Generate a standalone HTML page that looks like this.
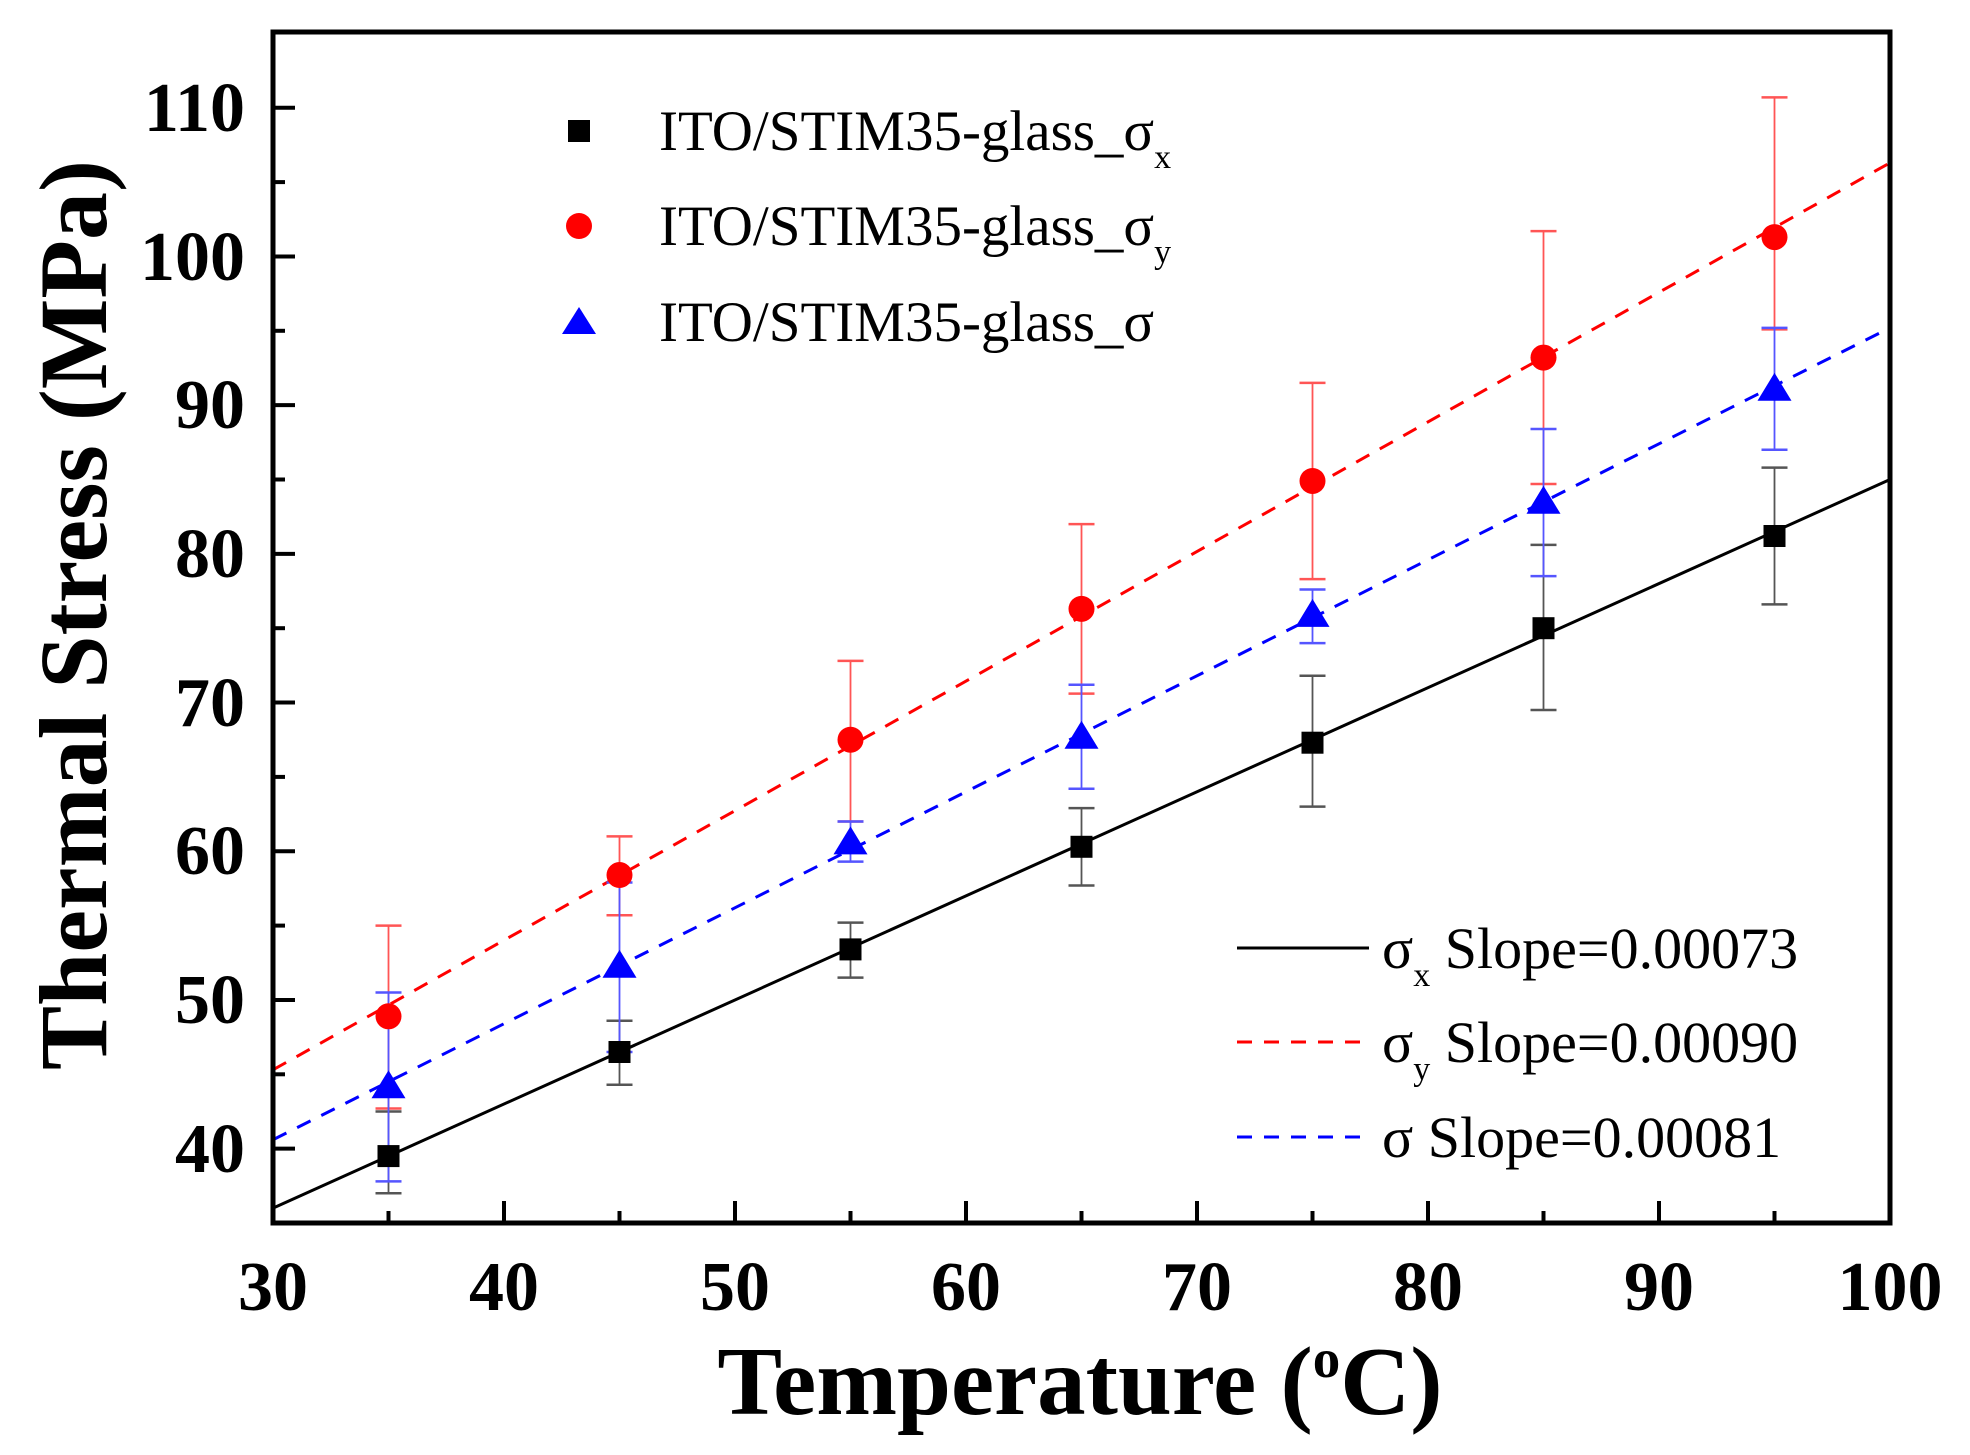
<!DOCTYPE html>
<html><head><meta charset="utf-8"><style>
html,body{margin:0;padding:0;background:#fff;}
svg{display:block;}
text{font-family:"Liberation Serif",serif;fill:#000;}
.tk{font-size:70px;font-weight:bold;}
.lg{font-size:57px;}
.lg2{font-size:58px;}
</style></head><body>
<svg id="s" width="1970" height="1455" viewBox="0 0 1970 1455" xmlns="http://www.w3.org/2000/svg">
<g id="data"></g>
<rect x="273" y="32" width="1617" height="1191" fill="none" stroke="#000" stroke-width="5"/>
<g id="ticks" stroke="#000" stroke-width="4"></g>
<g class="tk" text-anchor="end">
<text x="245" y="131">110</text>
<text x="245" y="280">100</text>
<text x="245" y="428">90</text>
<text x="245" y="577">80</text>
<text x="245" y="726">70</text>
<text x="245" y="874">60</text>
<text x="245" y="1023">50</text>
<text x="245" y="1172">40</text>
</g>
<g class="tk" text-anchor="middle">
<text x="273" y="1310">30</text>
<text x="504" y="1310">40</text>
<text x="735" y="1310">50</text>
<text x="966" y="1310">60</text>
<text x="1197" y="1310">70</text>
<text x="1428" y="1310">80</text>
<text x="1659" y="1310">90</text>
<text x="1890" y="1310">100</text>
</g>
<text x="1080" y="1414" text-anchor="middle" style="font-size:97px;font-weight:bold">Temperature (<tspan dy="-37" style="font-size:55px">o</tspan><tspan dy="37">C)</tspan></text>
<text transform="translate(106,615) rotate(-90)" text-anchor="middle" style="font-size:96px;font-weight:bold">Thermal Stress (MPa)</text>
<rect x="568" y="120" width="22" height="22" fill="#000"/>
<circle cx="579" cy="226" r="13" fill="#f00"/>
<polygon points="579,307 596,334 562,334" fill="#00f"/>
<g class="lg">
<text x="659" y="150">ITO/STIM35-glass_σ<tspan dy="18" style="font-size:34px">x</tspan></text>
<text x="659" y="245">ITO/STIM35-glass_σ<tspan dy="18" style="font-size:34px">y</tspan></text>
<text x="659" y="341">ITO/STIM35-glass_σ</text>
</g>
<line x1="1237" y1="948" x2="1369" y2="948" stroke="#000" stroke-width="3"/>
<line x1="1237" y1="1042" x2="1369" y2="1042" stroke="#f00" stroke-width="3" stroke-dasharray="15,12"/>
<line x1="1237" y1="1137" x2="1369" y2="1137" stroke="#00f" stroke-width="3" stroke-dasharray="15,12"/>
<g class="lg2">
<text x="1382" y="968">σ<tspan dy="18" style="font-size:34px">x</tspan><tspan dy="-18"> Slope=0.00073</tspan></text>
<text x="1382" y="1062">σ<tspan dy="18" style="font-size:34px">y</tspan><tspan dy="-18"> Slope=0.00090</tspan></text>
<text x="1382" y="1157">σ  Slope=0.00081</text>
</g>
</svg>
<script>
const X=v=>273+(v-30)*23.1, Y=v=>1223-(v-35)*14.87;
const NS="http://www.w3.org/2000/svg";
function el(p,t,a){const e=document.createElementNS(NS,t);for(const k in a)e.setAttribute(k,a[k]);p.appendChild(e);return e;}
const tk=document.getElementById('ticks');
for(let v=30;v<=100;v+=5){const L=(v%10==0)?22:12;if(v>30&&v<100){el(tk,'line',{x1:X(v),y1:1223,x2:X(v),y2:1223-L});}}
for(let v=40;v<=110;v+=5){const L=(v%10==0)?22:12;el(tk,'line',{x1:273,y1:Y(v),x2:273+L,y2:Y(v)});}
const d=document.getElementById('data');
const xs=[35,45,55,65,75,85,95];
const S={
 k:{c:'#000',ec:'#555',pts:[[39.5,37,42.5],[46.5,44.3,48.6],[53.4,51.5,55.2],[60.3,57.7,62.9],[67.3,63,71.8],[75,69.5,80.6],[81.2,76.6,85.8]],ln:[36,85],dash:null},
 r:{c:'#f00',ec:'#f55',pts:[[48.9,42.7,55],[58.4,55.7,61],[67.5,62,72.8],[76.3,70.6,82],[84.9,78.3,91.5],[93.2,84.7,101.7],[101.3,95.1,110.7]],ln:[45.3,106.3],dash:'15,12'},
 b:{c:'#00f',ec:'#55f',pts:[[44.2,37.8,50.5],[52.3,46.5,57.9],[60.6,59.3,62],[67.7,64.2,71.2],[75.9,74,77.6],[83.5,78.5,88.4],[91.1,87,95.2]],ln:[40.6,95.2],dash:'15,12'}};
for(const k of ['k','r','b']){const s=S[k];const a={x1:X(30),y1:Y(s.ln[0]),x2:X(100),y2:Y(s.ln[1]),stroke:s.c,'stroke-width':3};if(s.dash)a['stroke-dasharray']=s.dash;el(d,'line',a);}
for(const k of ['k','r','b']){const s=S[k];s.pts.forEach((p,i)=>{const x=X(xs[i]);
 el(d,'line',{x1:x,y1:Y(p[1]),x2:x,y2:Y(p[2]),stroke:s.ec,'stroke-width':1.8});
 for(const q of [p[1],p[2]])el(d,'line',{x1:x-13,y1:Y(q),x2:x+13,y2:Y(q),stroke:s.ec,'stroke-width':2.5});});}
for(const k of ['k','r','b']){const s=S[k];s.pts.forEach((p,i)=>{const x=X(xs[i]),y=Y(p[0]);
 if(k=='k')el(d,'rect',{x:x-11,y:y-11,width:22,height:22,fill:s.c});
 else if(k=='r')el(d,'circle',{cx:x,cy:y,r:13,fill:s.c});
 else el(d,'polygon',{points:`${x},${y-16} ${x+17},${y+12} ${x-17},${y+12}`,fill:s.c});});}
</script>
</body></html>
